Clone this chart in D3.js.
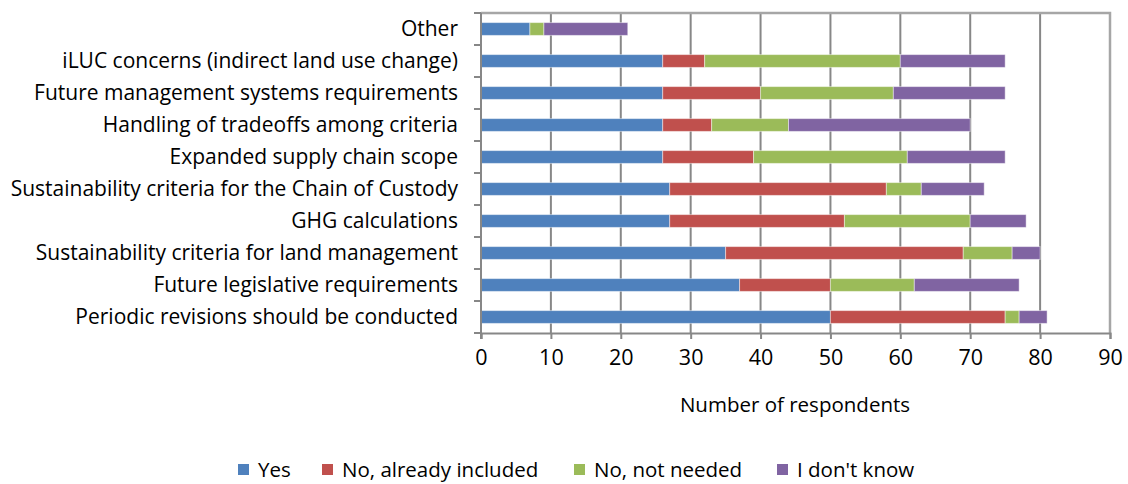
<!DOCTYPE html>
<meta charset="utf-8">
<style>
body { margin: 0; background: #fff; font-family: 'Open Sans', sans-serif; }
.grid line { stroke: #878787; stroke-width: 2; }
.cat text { font-size: 21px; fill: #000; }
</style>
<body>
<script src="https://d3js.org/d3.v7.min.js"></script>
<script>
var width = 1128,
    height = 484;

// categories top to bottom
var categories = ["Other", "iLUC concerns (indirect land use change)", "Future management systems requirements",
  "Handling of tradeoffs among criteria", "Expanded supply chain scope", "Sustainability criteria for the Chain of Custody",
  "GHG calculations", "Sustainability criteria for land management", "Future legislative requirements",
  "Periodic revisions should be conducted"];
var series = ["Yes", "No, already included", "No, not needed", "I don't know"];
var yes = [7, 26, 26, 26, 26, 27, 27, 35, 37, 50];
var included = [0, 6, 14, 7, 13, 31, 25, 34, 13, 25];
var notNeeded = [2, 28, 19, 11, 22, 5, 18, 7, 12, 2];
var dontKnow = [12, 15, 16, 26, 14, 9, 8, 4, 15, 4];
var xTicks = [0, 10, 20, 30, 40, 50, 60, 70, 80, 90];
var colors = ["#4F81BD", "#C0504D", "#9BBB59", "#8064A2"];

var rows = categories.map((c, i) => ({cat: c, "Yes": yes[i], "No, already included": included[i],
  "No, not needed": notNeeded[i], "I don't know": dontKnow[i]}));

var margin = {left: 481, right: 18, top: 13, bottom: 151};

var svg = d3.select("body").append("svg")
    .attr("width", width)
    .attr("height", height);

var x = d3.scaleLinear().domain([0, 90]).range([margin.left, width - margin.right]);
var y = d3.scaleBand().domain(categories).range([margin.top, height - margin.bottom]).paddingInner(0.6).paddingOuter(0.3);
var color = d3.scaleOrdinal().domain(series).range(colors);

// gridlines
svg.append("g").attr("class", "grid")
  .selectAll("line").data(xTicks.slice(1, -1)).join("line")
    .attr("x1", d => x(d)).attr("x2", d => x(d))
    .attr("y1", margin.top).attr("y2", height - margin.bottom);

// plot border top / right
svg.append("path")
  .attr("d", `M${x(0)},${margin.top}H${x(90)}V${height - margin.bottom}`)
  .attr("fill", "none").attr("stroke", "#a6a6a6").attr("stroke-width", 2.5);

var stack = d3.stack().keys(series)(rows);

svg.append("g").selectAll("g").data(stack).join("g")
    .attr("fill", d => color(d.key))
  .selectAll("rect").data(d => d.filter(p => p[1] > p[0])).join("rect")
    .attr("x", d => x(d[0]))
    .attr("width", d => x(d[1]) - x(d[0]))
    .attr("y", d => y(d.data.cat))
    .attr("height", y.bandwidth())
    .attr("stroke", "rgba(255,255,255,0.45)")
    .attr("stroke-width", 1);

// left axis (category ticks at band edges)
var step = y.step();
var yAx = svg.append("g").attr("class", "cat");
yAx.append("line").attr("x1", x(0)).attr("x2", x(0))
  .attr("y1", margin.top).attr("y2", height - margin.bottom + 6)
  .attr("stroke", "#878787").attr("stroke-width", 2);
yAx.selectAll(".tk").data(d3.range(categories.length + 1)).join("line")
  .attr("class", "tk")
  .attr("x1", x(0) - 7).attr("x2", x(0))
  .attr("y1", i => margin.top + i * step).attr("y2", i => margin.top + i * step)
  .attr("stroke", "#878787").attr("stroke-width", 2);
yAx.selectAll("text").data(categories).join("text")
  .attr("x", x(0) - 23)
  .attr("y", d => y(d) + y.bandwidth() / 2)
  .attr("dy", "0.35em")
  .attr("text-anchor", "end")
  .text(d => d);

// bottom axis
var xAxis = d3.axisBottom(x).tickValues(xTicks).tickSize(6).tickPadding(11);
svg.append("g")
  .attr("transform", `translate(0,${height - margin.bottom})`)
  .call(xAxis)
  .call(g => g.select(".domain").attr("stroke", "#878787").attr("stroke-width", 2))
  .call(g => g.selectAll(".tick line").attr("stroke", "#878787").attr("stroke-width", 2))
  .call(g => g.selectAll(".tick text").attr("fill", "#000")
    .attr("font-family", "'Open Sans', sans-serif").attr("font-size", 21.5));

svg.append("text")
  .attr("x", 795).attr("y", 412)
  .attr("text-anchor", "middle")
  .attr("font-size", 20.5)
  .text("Number of respondents");

// legend
var legendX = [238, 322, 574, 777];
var lg = svg.append("g").selectAll("g").data(series).join("g")
  .attr("transform", (d, i) => `translate(${legendX[i]},464)`);
lg.append("rect").attr("width", 11).attr("height", 11).attr("fill", d => color(d));
lg.append("text").attr("x", 20).attr("y", 6).attr("dy", "0.35em")
  .attr("font-size", 20.5).text(d => d);
</script>
</body>
